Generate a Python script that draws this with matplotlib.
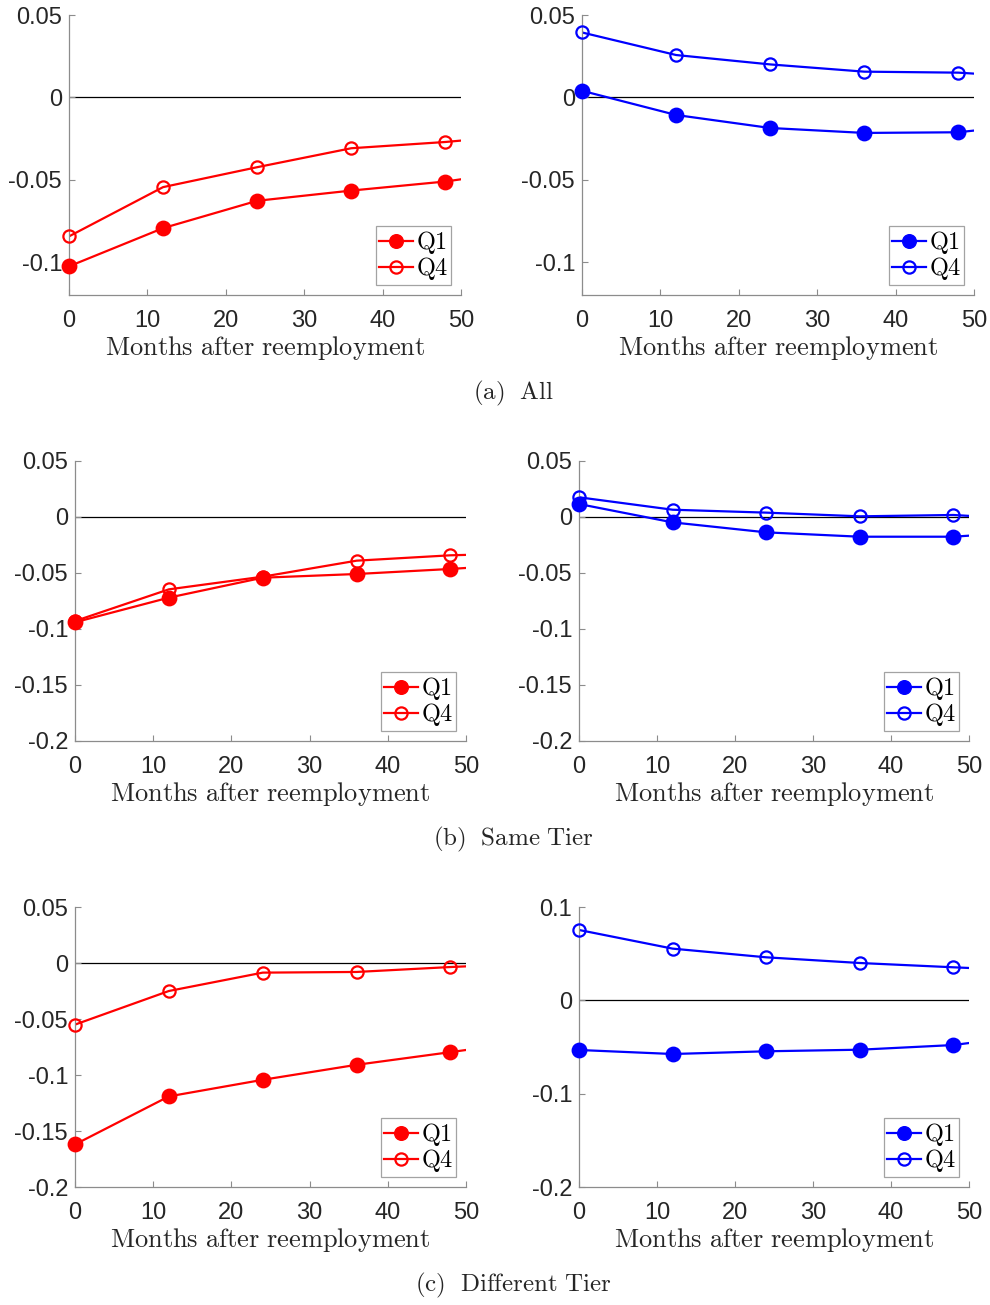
import numpy as np
import matplotlib
matplotlib.use("Agg")
import matplotlib.pyplot as plt
from matplotlib.lines import Line2D

plt.rcParams['mathtext.fontset'] = 'cm'
plt.rcParams['font.family'] = ['Liberation Sans', 'DejaVu Sans']

# ---------------- data ----------------
months = [0, 12, 24, 36, 48, 60]

all_red_q1 = [-0.1026, -0.0794, -0.0628, -0.0566, -0.0511, -0.043]
all_red_q4 = [-0.0844, -0.0545, -0.0424, -0.0309, -0.0271, -0.022]
all_blue_q1 = [0.0040, -0.0107, -0.0186, -0.0216, -0.0212, -0.015]
all_blue_q4 = [0.0394, 0.0257, 0.0200, 0.0156, 0.0150, 0.0115]

same_red_q1 = [-0.0940, -0.0720, -0.0542, -0.0509, -0.0464, -0.041]
same_red_q4 = [-0.0929, -0.0646, -0.0533, -0.0390, -0.0342, -0.032]
same_blue_q1 = [0.0116, -0.0048, -0.0137, -0.0176, -0.0176, -0.012]
same_blue_q4 = [0.0176, 0.0065, 0.0039, 0.0006, 0.0018, -0.003]

diff_red_q1 = [-0.1620, -0.1191, -0.1043, -0.0909, -0.0796, -0.068]
diff_red_q4 = [-0.0550, -0.0250, -0.0086, -0.0080, -0.0036, 0.000]
diff_blue_q1 = [-0.0532, -0.0575, -0.0546, -0.0529, -0.0479, -0.035]
diff_blue_q4 = [0.0754, 0.0554, 0.0461, 0.0400, 0.0354, 0.031]

xticks = [0, 10, 20, 30, 40, 50]
yticks_a = [-0.1, -0.05, 0, 0.05]
ylabels_a = ['-0.1', '-0.05', '0', '0.05']
yticks_b = [-0.2, -0.15, -0.1, -0.05, 0, 0.05]
ylabels_b = ['-0.2', '-0.15', '-0.1', '-0.05', '0', '0.05']
yticks_c = [-0.2, -0.1, 0, 0.1]
ylabels_c = ['-0.2', '-0.1', '0', '0.1']

legend_labels = ['Q1', 'Q4']
xlabel_text = 'Months after reemployment'
captions = ['(a)  All', '(b)  Same Tier', '(c)  Different Tier']

# ---------------- layout ----------------
W, H = 990, 1305
fig = plt.figure(figsize=(W / 100, H / 100), dpi=100)

def px_axes(x0, y0, x1, y1):
    return fig.add_axes([x0 / W, 1 - y1 / H, (x1 - x0) / W, (y1 - y0) / H])

RED = '#ff0000'
BLUE = '#0000ff'
AXCOL = '#8c8c8c'
TXT = '#262626'

def mtext(s):
    return r'$\mathrm{' + s.replace(' ', r'\ ') + '}$'

def panel(rect, q1, q4, color, ylim, yticks, ylabels):
    ax = px_axes(*rect)
    ax.set_xlim(0, 50)
    ax.set_ylim(*ylim)
    ax.axhline(0, color='black', lw=0.9, zorder=1)
    m = np.array(months)
    for vals, filled in ((q1, True), (q4, False)):
        v = np.array(vals)
        ax.plot(m, v, color=color, lw=1.6, zorder=2)
        sel = m <= 50
        ax.plot(m[sel], v[sel], linestyle='none', marker='o',
                markersize=9.8 if filled else 8.8,
                markerfacecolor=color if filled else 'none',
                markeredgecolor=color, markeredgewidth=1.6,
                clip_on=False, zorder=3)
    for s in ('top', 'right'):
        ax.spines[s].set_visible(False)
    for s in ('left', 'bottom'):
        ax.spines[s].set_color(AXCOL)
        ax.spines[s].set_linewidth(0.9)
    ax.set_xticks(xticks)
    ax.set_xticklabels([str(t) for t in xticks])
    ax.set_yticks(yticks)
    ax.set_yticklabels(ylabels)
    ax.tick_params(direction='in', length=4, width=0.8, color=AXCOL,
                   labelsize=17, labelcolor=TXT)
    ax.tick_params(axis='y', pad=5)
    ax.tick_params(axis='x', pad=11)
    ax.set_xlabel(mtext(xlabel_text), fontsize=19, color=TXT, labelpad=1)
    handles = [
        Line2D([], [], color=color, lw=1.6, marker='o', markersize=9.8,
               markerfacecolor=color, markeredgecolor=color),
        Line2D([], [], color=color, lw=1.6, marker='o', markersize=8.8,
               markerfacecolor='none', markeredgecolor=color, markeredgewidth=1.6),
    ]
    w = rect[2] - rect[0]
    h = rect[3] - rect[1]
    leg = ax.legend(handles, [mtext(l) for l in legend_labels],
                    loc='lower right', bbox_to_anchor=(1 - 10 / w, 10 / h),
                    borderaxespad=0, fontsize=17.5, frameon=True, fancybox=False,
                    handlelength=1.4, handletextpad=0.1, labelspacing=-0.05,
                    borderpad=0.12)
    leg.get_frame().set_edgecolor(AXCOL)
    leg.get_frame().set_linewidth(0.9)
    return ax

panel((69, 15, 461, 295), all_red_q1, all_red_q4, RED, (-0.12, 0.05), yticks_a, ylabels_a)
panel((582, 15, 974, 295), all_blue_q1, all_blue_q4, BLUE, (-0.12, 0.05), yticks_a, ylabels_a)
panel((75, 461, 466, 741), same_red_q1, same_red_q4, RED, (-0.2, 0.05), yticks_b, ylabels_b)
panel((579, 461, 969, 741), same_blue_q1, same_blue_q4, BLUE, (-0.2, 0.05), yticks_b, ylabels_b)
panel((75, 907, 466, 1187), diff_red_q1, diff_red_q4, RED, (-0.2, 0.05), yticks_b, ylabels_b)
panel((579, 907, 969, 1187), diff_blue_q1, diff_blue_q4, BLUE, (-0.2, 0.1), yticks_c, ylabels_c)

for cap, yc in zip(captions, (393, 839, 1285)):
    fig.text(513 / W, 1 - yc / H, mtext(cap), ha='center', va='center',
             fontsize=18, color=TXT)

fig.savefig('out.png', dpi=100)
